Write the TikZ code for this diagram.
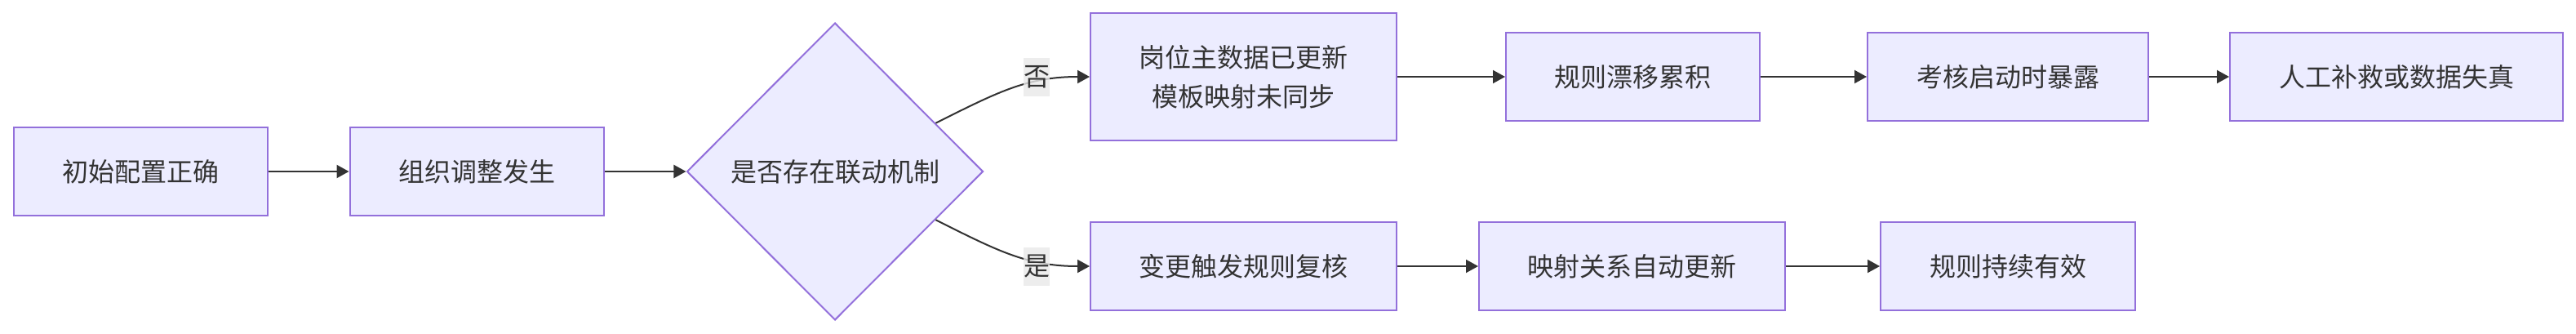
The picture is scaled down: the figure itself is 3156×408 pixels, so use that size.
\documentclass[tikz,border=0pt]{standalone}
\usepackage{fontspec}
\setmainfont{Noto Sans CJK SC}
\usetikzlibrary{arrows.meta,shapes.geometric,calc}
\definecolor{boxfill}{HTML}{ECECFF}
\definecolor{boxline}{HTML}{9370DB}
\definecolor{txt}{HTML}{333333}
\definecolor{lblbg}{HTML}{E8E8E8}
\begin{document}
\begin{tikzpicture}[x=1pt,y=-1pt,
  box/.style={draw=boxline,fill=boxfill,line width=2pt,minimum height=108pt,inner sep=0pt,text=txt,font=\fontsize{32}{48}\selectfont,align=center},
  dec/.style={diamond,draw=boxline,fill=boxfill,line width=2pt,minimum width=363pt,minimum height=364pt,inner sep=0pt,text=txt,font=\fontsize{32}{48}\selectfont},
  edge/.style={draw=txt,line width=2pt,-{Triangle[length=15pt,width=16pt]}},
  lbl/.style={fill=lblbg,fill opacity=0.8,text opacity=1,text=txt,inner sep=0pt,minimum width=32pt,minimum height=47pt,font=\fontsize{32}{48}\selectfont}]
\useasboundingbox (0,0) rectangle (3156,408);
\node[box,minimum width=311pt] (A) at (172,210) {初始配置正确};
\node[box,minimum width=311pt] (B) at (584,210) {组织调整发生};
\node[dec] (C) at (1023,210) {是否存在联动机制};
\node[box,minimum width=375pt,minimum height=156pt] (D) at (1523.5,94) {岗位主数据已更新\\模板映射未同步};
\node[box,minimum width=311pt] (E) at (2000.5,94) {规则漂移累积};
\node[box,minimum width=344pt] (F) at (2460,94) {考核启动时暴露};
\node[box,minimum width=408pt] (G) at (2936,94) {人工补救或数据失真};
\node[box,minimum width=375pt] (H) at (1523.5,326) {变更触发规则复核};
\node[box,minimum width=375pt] (I) at (1999.5,326) {映射关系自动更新};
\node[box,minimum width=312pt] (J) at (2460,326) {规则持续有效};
\draw[edge] (A) -- (B);
\draw[edge] (B) -- (C);
\draw[edge] ($(C.north)!0.676!(C.east)$) .. controls (1222,113) and (1258,94) .. (D.west);
\draw[edge] ($(C.south)!0.676!(C.east)$) .. controls (1222,307) and (1258,326) .. (H.west);
\draw[edge] (D) -- (E);
\draw[edge] (E) -- (F);
\draw[edge] (F) -- (G);
\draw[edge] (H) -- (I);
\draw[edge] (I) -- (J);
\node[lbl] (no) at (1270,94) {否};
\node[lbl] (yes) at (1270,326) {是};
\end{tikzpicture}
\end{document}
